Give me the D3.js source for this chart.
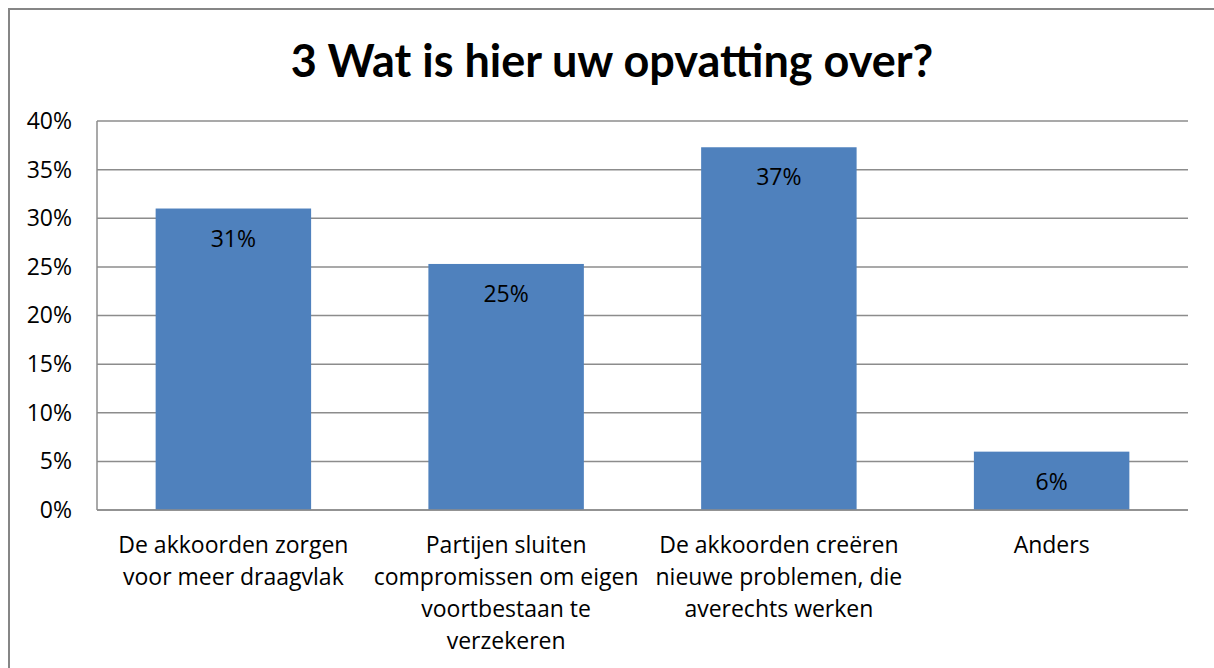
<!DOCTYPE html>
<html>
<head>
<meta charset="utf-8">
<script src="https://cdn.jsdelivr.net/npm/d3@7"></script>
<style>
    body { margin: 0; background: #fff; }
    svg text { font-family: "Open Sans", Lato, sans-serif; fill: #000; }
</style>
</head>
<body>
<div id="chart"></div>
<script>
// Chart data
const title = "3 Wat is hier uw opvatting over?";
const categories = ["c1", "c2", "c3", "c4"];
const categoryLabels = [
    ["De akkoorden zorgen", "voor meer draagvlak"],
    ["Partijen sluiten", "compromissen om eigen", "voortbestaan te", "verzekeren"],
    ["De akkoorden creëren", "nieuwe problemen, die", "averechts werken"],
    ["Anders"]
];
const values = [0.31, 0.253, 0.373, 0.06];
const valueLabels = ["31%", "25%", "37%", "6%"];
const yTicks = [0, 0.05, 0.10, 0.15, 0.20, 0.25, 0.30, 0.35, 0.40];

function draw() {
    const W = 1214, H = 668;
    const margin = { top: 121, right: 26, bottom: 158, left: 97 };
    const width = W - margin.left - margin.right;
    const height = H - margin.top - margin.bottom;
    const fontSize = "23px";

    var root = d3.select("#chart")
        .append("svg")
        .attr("width", W)
        .attr("height", H);

    // outer chart border (right/bottom edges fall outside the picture)
    root.append("rect")
        .attr("x", 9)
        .attr("y", 9)
        .attr("width", W + 20)
        .attr("height", H + 20)
        .attr("fill", "none")
        .attr("stroke", "#868686")
        .attr("stroke-width", 2);

    root.append("text")
        .attr("x", 612)
        .attr("y", 77)
        .attr("text-anchor", "middle")
        .style("font-family", "Lato, sans-serif")
        .style("font-size", "45px")
        .style("font-weight", "bold")
        .text(title);

    var svg = root.append("g")
        .attr("transform", "translate(" + margin.left + "," + margin.top + ")");

    var x = d3.scaleBand()
        .domain(categories)
        .range([0, width])
        .paddingInner(0.43)
        .paddingOuter(0.215);

    var y = d3.scaleLinear()
        .domain([0, 0.4])
        .range([height, 0]);

    // gridlines
    svg.append("g")
        .selectAll("line")
        .data(yTicks)
        .enter()
        .append("line")
        .attr("x1", 0)
        .attr("x2", width)
        .attr("y1", d => y(d))
        .attr("y2", d => y(d))
        .attr("stroke", "#8c8c8c")
        .attr("stroke-width", 1.5);

    // Y axis
    var yAxis = svg.append("g")
        .call(d3.axisLeft(y).tickValues(yTicks).tickFormat(d3.format(".0%")).tickSize(0).tickPadding(25));
    yAxis.select(".domain").remove();
    yAxis.selectAll("text")
        .style("font-size", fontSize)
        .style("font-family", "'Open Sans', sans-serif");

    // bars
    svg.append("g")
        .selectAll(".bar")
        .data(categories)
        .enter()
        .append("rect")
        .attr("class", "bar")
        .attr("x", d => x(d))
        .attr("y", (d, i) => y(values[i]))
        .attr("width", x.bandwidth())
        .attr("height", (d, i) => height - y(values[i]))
        .attr("fill", "#4F81BD");

    // value labels
    svg.append("g")
        .selectAll("text")
        .data(categories)
        .enter()
        .append("text")
        .attr("x", d => x(d) + x.bandwidth() / 2)
        .attr("y", (d, i) => y(values[i]) + 30)
        .attr("dy", "0.35em")
        .attr("text-anchor", "middle")
        .style("font-size", fontSize)
        .text((d, i) => valueLabels[i]);

    // axis lines
    svg.append("line")
        .attr("x1", 0).attr("x2", 0)
        .attr("y1", 0).attr("y2", height)
        .attr("stroke", "#8c8c8c")
        .attr("stroke-width", 1.5);
    svg.append("line")
        .attr("x1", 0).attr("x2", width)
        .attr("y1", height).attr("y2", height)
        .attr("stroke", "#8c8c8c")
        .attr("stroke-width", 1.5);

    // category labels
    var cat = svg.append("g")
        .selectAll("text")
        .data(categories)
        .enter()
        .append("text")
        .attr("text-anchor", "middle")
        .attr("transform", d => "translate(" + (x(d) + x.bandwidth() / 2) + "," + (height + 43) + ")")
        .style("font-size", fontSize);
    cat.selectAll("tspan")
        .data((d, i) => categoryLabels[i])
        .enter()
        .append("tspan")
        .attr("x", 0)
        .attr("y", (d, i) => i * 32)
        .text(d => d);
}

draw();
</script>
</body>
</html>
